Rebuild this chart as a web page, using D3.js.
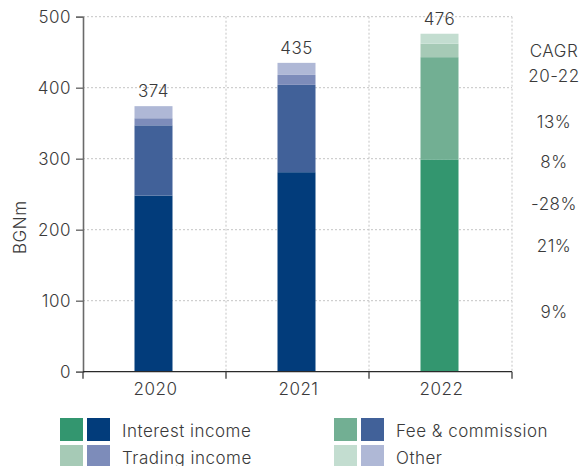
<!DOCTYPE html>
<html>
<head>
<meta charset="utf-8">
<script src="https://cdn.jsdelivr.net/npm/d3@7"></script>
<style>
  html, body { margin: 0; padding: 0; background: #ffffff; }
  svg { display: block; font-family: Inter, "DejaVu Sans", sans-serif; font-weight: 300; }
  text { fill: #3a3a3a; letter-spacing: 0.5px; }
</style>
</head>
<body>
<svg id="chart" width="582" height="466"></svg>
<script>
// Operating income by source, BGN millions
const years = ["2020", "2021", "2022"];
const seriesNames = ["Interest income", "Fee & commission", "Trading income", "Other"];
const interestIncome = [248, 281, 299];
const feeCommission = [99, 123, 144];
const tradingIncome = [10, 14, 19];
const otherIncome = [17, 17, 14];
const totals = [374, 435, 476];
const yTicks = [0, 100, 200, 300, 400, 500];
const cagrHeader = ["CAGR", "20-22"];
const cagrLabels = ["13%", "8%", "-28%", "21%", "9%"];

// Blue shades for 2020–2021, green shades for 2022
const bluePalette = ["#023c7b", "#416199", "#7d8cba", "#afb8d6"];
const greenPalette = ["#33966f", "#72af93", "#a6cab6", "#c3ddd0"];

const FONT = "Inter, 'DejaVu Sans', sans-serif";
const FS = 17;

const svg = d3.select("#chart");
const margin = { left: 83, right: 70, top: 16.7, bottom: 94.3 };
const W = 582, H = 466;

const x = d3.scaleBand().domain(years).range([margin.left, W - margin.right]).padding(0);
const y = d3.scaleLinear().domain([0, 500]).range([H - margin.bottom, margin.top]);

const barWidth = 38;

const rows = years.map((yr, i) => ({
  year: yr,
  "Interest income": interestIncome[i],
  "Fee & commission": feeCommission[i],
  "Trading income": tradingIncome[i],
  "Other": otherIncome[i],
  total: totals[i]
}));
const stacked = d3.stack().keys(seriesNames)(rows);

// Dotted grid
const grid = svg.append("g");
grid.selectAll("line.h").data(yTicks.filter(d => d > 0)).join("line")
  .attr("x1", x.range()[0]).attr("x2", x.range()[1])
  .attr("y1", d => y(d)).attr("y2", d => y(d))
  .attr("stroke", "#c4c4c4").attr("stroke-width", 1).attr("stroke-dasharray", "2,2");
const bandEdges = years.slice(1).map(d => x(d)).concat([x.range()[1]]);
grid.selectAll("line.v").data(bandEdges).join("line")
  .attr("x1", d => d).attr("x2", d => d)
  .attr("y1", y(500)).attr("y2", y(0))
  .attr("stroke", "#c4c4c4").attr("stroke-width", 1).attr("stroke-dasharray", "2,2");

// Stacked bars
svg.append("g").selectAll("g").data(stacked).join("g")
  .each(function (layer, li) {
    d3.select(this).selectAll("rect").data(layer).join("rect")
      .attr("x", d => x(d.data.year) + x.bandwidth() / 2 - barWidth / 2 - 1)
      .attr("width", barWidth)
      .attr("y", d => y(d[1]))
      .attr("height", d => y(d[0]) - y(d[1]))
      .attr("fill", d => (d.data.year === "2022" ? greenPalette : bluePalette)[li]);
  });

// Totals above bars
svg.append("g").selectAll("text").data(rows).join("text")
  .attr("x", d => x(d.year) + x.bandwidth() / 2 - 1)
  .attr("y", d => y(d.total) - 9)
  .attr("text-anchor", "middle")
  .attr("font-size", FS)
  .text(d => d.total);

// Y axis
const yAxis = svg.append("g").attr("transform", `translate(${margin.left},0)`)
  .call(d3.axisLeft(y).tickValues(yTicks).tickSize(7).tickPadding(5));
yAxis.select(".domain").attr("stroke", "#6a6a6a").attr("stroke-width", 1.6);
yAxis.selectAll(".tick line").attr("stroke", "#6a6a6a").attr("stroke-width", 1.4);
yAxis.selectAll(".tick text").attr("font-size", FS).attr("fill", "#3a3a3a")
  .attr("font-family", FONT).attr("font-weight", 300);

// X axis with ticks at band boundaries
const xAxisG = svg.append("g");
xAxisG.append("line")
  .attr("x1", x.range()[0]).attr("x2", x.range()[1])
  .attr("y1", y(0)).attr("y2", y(0))
  .attr("stroke", "#2a2a2a").attr("stroke-width", 1.2);
xAxisG.selectAll("line.tk").data([x.range()[0]].concat(bandEdges)).join("line")
  .attr("x1", d => d).attr("x2", d => d)
  .attr("y1", y(0)).attr("y2", y(0) + 7)
  .attr("stroke", "#4a4a4a").attr("stroke-width", 1.4);
xAxisG.selectAll("text").data(years).join("text")
  .attr("x", d => x(d) + x.bandwidth() / 2 + 1)
  .attr("y", y(0) + 23.5)
  .attr("text-anchor", "middle")
  .attr("font-size", FS)
  .text(d => d);

// Y axis title
svg.append("text")
  .attr("transform", `translate(26,${(y(0) + y(500)) / 2 + 33}) rotate(-90)`)
  .attr("text-anchor", "middle")
  .attr("font-size", FS)
  .text("BGNm");

// CAGR column
const cagrX = 554;
const headerBaselines = [57, 81.5];
svg.append("g").selectAll("text").data(cagrHeader).join("text")
  .attr("x", cagrX).attr("y", (d, i) => headerBaselines[i])
  .attr("text-anchor", "middle").attr("font-size", FS)
  .text(d => d);
const cagrBaselines = [127.5, 168, 210, 252, 317.5];
svg.append("g").selectAll("text").data(cagrLabels).join("text")
  .attr("x", cagrX).attr("y", (d, i) => cagrBaselines[i])
  .attr("text-anchor", "middle").attr("font-size", FS)
  .text(d => d);

// Legend: green + blue swatch pairs per series
const legendCols = [60, 334];
const legendRows = [418, 445];
const sw = 23, gap = 4;
const legendOrder = [0, 1, 2, 3];
const legend = svg.append("g").selectAll("g").data(legendOrder).join("g")
  .attr("transform", (d, i) => `translate(${legendCols[i % 2]},${legendRows[Math.floor(i / 2)]})`);
legend.append("rect").attr("x", 0).attr("y", 0).attr("width", sw).attr("height", sw)
  .attr("fill", d => greenPalette[d]);
legend.append("rect").attr("x", sw + gap).attr("y", 0).attr("width", sw).attr("height", sw)
  .attr("fill", d => bluePalette[d]);
legend.append("text").attr("x", 2 * sw + gap + 12).attr("y", 19)
  .attr("font-size", FS)
  .text(d => seriesNames[d]);
</script>
</body>
</html>
